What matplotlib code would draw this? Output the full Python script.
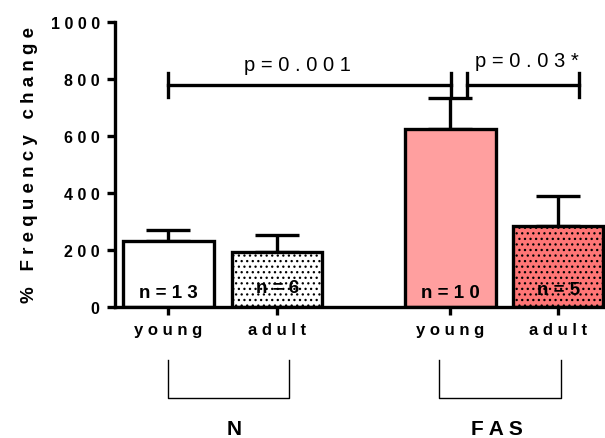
import matplotlib
matplotlib.use("Agg")
import matplotlib.pyplot as plt

plt.rcParams['font.family'] = ['Liberation Sans', 'DejaVu Sans']
plt.rcParams['font.weight'] = 'bold'
plt.rcParams['hatch.linewidth'] = 0.9


def spaced(s):
    return ' '.join(s)


# data
positions = [0, 1, 2.59, 3.58]
tick_labels = ['young', 'adult', 'young', 'adult']
means = [232, 193, 625, 284]
sem = [38, 60, 108, 105]
n_labels = ['n=13', 'n=6', 'n=10', 'n=5']
n_y = [52, 68, 52, 62]
colors = ['white', 'white', '#ff9f9f', '#ff7676']
hatches = [None, '...', None, '...']
groups = ['N', 'FAS']
group_span = [(0, 1.11), (2.49, 3.61)]
group_label_x = [0.6, 3.02]

fig = plt.figure(figsize=(6.05, 4.39), dpi=100)
ax = fig.add_axes([115 / 605, 131 / 439, 490 / 605, 285 / 439])

for x, m, c, h in zip(positions, means, colors, hatches):
    ax.bar(x, m, width=0.83, color=c, edgecolor='black', linewidth=2.4,
           hatch=h, zorder=2)
ax.errorbar(positions, means, yerr=[[0] * 4, sem], fmt='none', ecolor='black',
            elinewidth=2.4, capsize=15.5, capthick=2.4, zorder=1)

for x, lab, y in zip(positions, n_labels, n_y):
    ax.text(x, y, spaced(lab), ha='center', va='center', fontsize=13.5,
            fontweight='bold', zorder=3)

# significance brackets
def bracket(x0, x1, y, h=42):
    ax.plot([x0, x1], [y, y], color='black', lw=2.4, clip_on=False)
    ax.plot([x0, x0], [y - h, y + h], color='black', lw=2.4, clip_on=False)
    ax.plot([x1, x1], [y - h, y + h], color='black', lw=2.4, clip_on=False)

bracket(0, 2.6, 780)
bracket(2.74, 3.77, 780)
ax.text(1.19, 850, spaced('p=0.001'), ha='center', va='center', fontsize=14.5,
        fontweight='normal')
ax.text(3.29, 865, spaced('p=0.03*'), ha='center', va='center', fontsize=14.5,
        fontweight='normal')

# group brackets under the axis
for (x0, x1), g, gx in zip(group_span, groups, group_label_x):
    ax.plot([x0, x0, x1, x1], [-186, -319, -319, -186], color='black',
            lw=1.0, clip_on=False)
    ax.text(gx, -425, spaced(g), ha='center', va='center', fontsize=15,
            fontweight='bold')

ax.set_xlim(-0.49, 4.01)
ax.set_ylim(0, 1000)
ax.set_xticks(positions)
ax.set_xticklabels([spaced(t) for t in tick_labels], fontsize=12,
                   fontweight='bold')
ax.set_yticks([0, 200, 400, 600, 800, 1000])
ax.set_yticklabels([spaced(str(v)) for v in [0, 200, 400, 600, 800, 1000]],
                   fontsize=11.5, fontweight='bold')
ax.tick_params(width=2.4, length=6, pad=5)
ax.set_ylabel(spaced('% Frequency change'), fontsize=13.5, fontweight='bold',
              labelpad=9)
for s in ['top', 'right']:
    ax.spines[s].set_visible(False)
for s in ['left', 'bottom']:
    ax.spines[s].set_linewidth(2.4)

fig.savefig('out.png', dpi=100)
